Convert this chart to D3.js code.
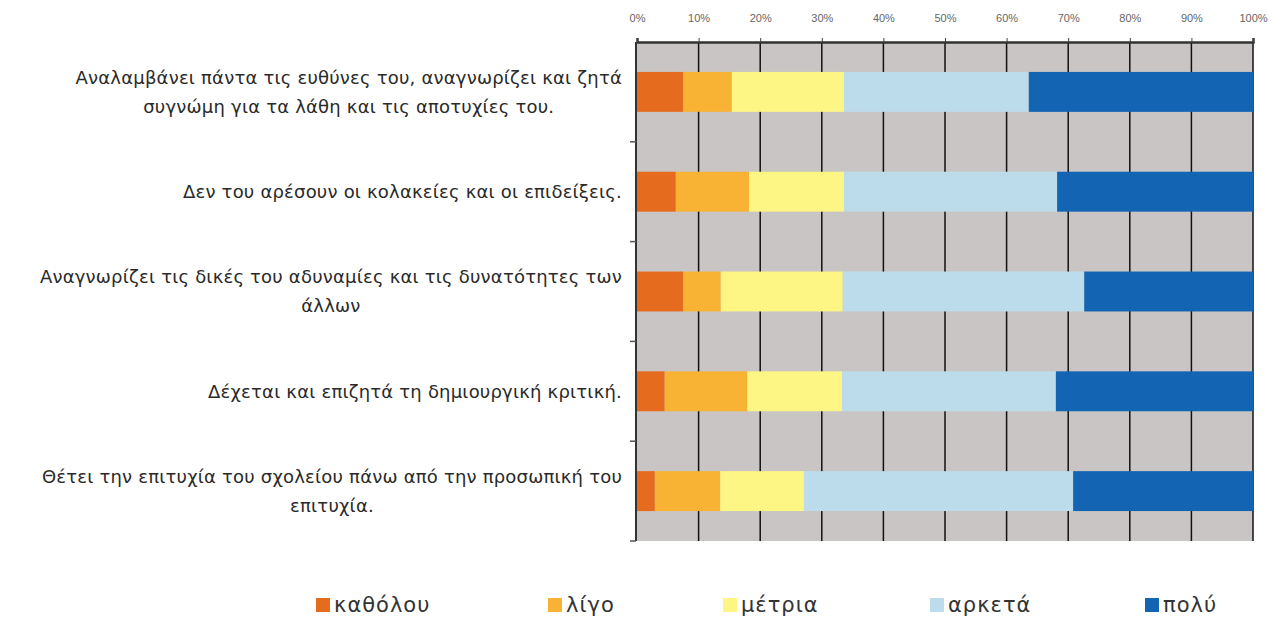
<!DOCTYPE html>
<html lang="el">
<head>
<meta charset="utf-8">
<title>Stacked bars</title>
<script src="https://d3js.org/d3.v7.min.js"></script>
<style>
  body { margin: 0; background: #fff; }
  text { font-family: "DejaVu Sans", "Liberation Sans", sans-serif; }
</style>
</head>
<body>
<script>
// categories (each as lines of text)
var categories = [
  ["Αναλαμβάνει πάντα τις ευθύνες του, αναγνωρίζει και ζητά", "συγνώμη για τα λάθη και τις αποτυχίες του."],
  ["Δεν του αρέσουν οι κολακείες και οι επιδείξεις."],
  ["Αναγνωρίζει τις δικές του αδυναμίες και τις δυνατότητες των", "άλλων"],
  ["Δέχεται και επιζητά τη δημιουργική κριτική."],
  ["Θέτει την επιτυχία του σχολείου πάνω από την προσωπική του", "επιτυχία."]
];
var seriesNames = ["καθόλου", "λίγο", "μέτρια", "αρκετά", "πολύ"];
var colors = ["#e56b1f", "#f8b334", "#fdf685", "#bcdcec", "#1464b4"];

// percentages per series, one per category
var katholou = [7.5, 6.3, 7.5, 4.5, 2.9];
var ligo     = [7.9, 11.9, 6.1, 13.4, 10.6];
var metria   = [18.2, 15.4, 19.8, 15.4, 13.6];
var arketa   = [30.0, 34.6, 39.2, 34.7, 43.7];
var poly     = [36.4, 31.8, 27.4, 32.0, 29.2];
var xTicks = [0, 10, 20, 30, 40, 50, 60, 70, 80, 90, 100];

var w = 1282, h = 617;
var margin = {top: 42, right: 29, bottom: 76, left: 637};

var svg = d3.select("body").append("svg")
  .attr("width", w).attr("height", h);

var x = d3.scaleLinear().domain([0, 100]).range([margin.left, w - margin.right]);
var y = d3.scaleBand().domain(d3.range(categories.length))
  .range([margin.top, h - margin.bottom])
  .paddingInner(0.6).paddingOuter(0.3);

// plot background
svg.append("rect")
  .attr("x", x(0)).attr("y", margin.top)
  .attr("width", x(100) - x(0)).attr("height", h - margin.bottom - margin.top)
  .attr("fill", "#c9c5c4");

// vertical grid lines
svg.append("g").selectAll("line")
  .data(xTicks.slice(1))
  .enter().append("line")
  .attr("x1", d => x(d)).attr("x2", d => x(d))
  .attr("y1", margin.top).attr("y2", h - margin.bottom)
  .attr("stroke", "#111").attr("stroke-width", 1.5);

// stacked data
var table = categories.map((c, i) => ({
  i: i,
  "καθόλου": katholou[i], "λίγο": ligo[i], "μέτρια": metria[i],
  "αρκετά": arketa[i], "πολύ": poly[i]
}));
var stacked = d3.stack().keys(seriesNames)(table);

svg.append("g").selectAll("g")
  .data(stacked)
  .enter().append("g")
  .attr("fill", (d, i) => colors[i])
  .selectAll("rect")
  .data(d => d)
  .enter().append("rect")
  .attr("x", d => x(d[0]))
  .attr("width", d => Math.max(0, x(Math.min(d[1], 100)) - x(d[0])))
  .attr("y", d => y(d.data.i))
  .attr("height", y.bandwidth());

// top axis
var xAxis = svg.append("g")
  .attr("transform", `translate(0,${margin.top})`)
  .call(d3.axisTop(x).tickValues(xTicks).tickFormat(d => d + "%").tickSize(4).tickPadding(16));
xAxis.select(".domain").attr("stroke", "#333").attr("stroke-width", 2.5);
xAxis.selectAll(".tick line").attr("stroke", "#444");
xAxis.selectAll("text").attr("fill", "#666")
  .style("font-family", "'Liberation Sans', sans-serif").style("font-size", "11px");

// left axis line with ticks at category boundaries
var left = svg.append("g");
left.append("line")
  .attr("x1", margin.left - 1).attr("x2", margin.left - 1)
  .attr("y1", margin.top).attr("y2", h - margin.bottom)
  .attr("stroke", "#333").attr("stroke-width", 2);
var step = y.step();
left.selectAll("line.tk")
  .data(d3.range(1, categories.length + 1))
  .enter().append("line").attr("class", "tk")
  .attr("x1", margin.left - 7).attr("x2", margin.left - 1)
  .attr("y1", d => margin.top + d * step).attr("y2", d => margin.top + d * step)
  .attr("stroke", "#555").attr("stroke-width", 1.5);

// category labels
var lineH = 29;
categories.forEach(function(lines, i) {
  var cy = y(i) + y.bandwidth() / 2;
  var t = svg.append("text")
    .attr("fill", "#2a2a2a")
    .style("font-size", "18px")
    .style("letter-spacing", "0.2px");
  lines.forEach(function(l, k) {
    t.append("tspan")
      .attr("y", cy + (k - (lines.length - 1) / 2) * lineH)
      .attr("dy", "0.35em")
      .text(l);
  });
  // right-align the block, center lines within it
  var widths = [];
  t.selectAll("tspan").each(function() { widths.push(this.getComputedTextLength()); });
  var maxW = d3.max(widths);
  var rightX = 622;
  t.selectAll("tspan")
    .attr("text-anchor", "middle")
    .attr("x", rightX - maxW / 2);
});

// legend
var legendX = [316, 548, 723, 930, 1145];
var legend = svg.append("g").attr("transform", "translate(0,604)");
seriesNames.forEach(function(s, i) {
  legend.append("rect")
    .attr("x", legendX[i]).attr("y", -6)
    .attr("width", 14).attr("height", 14)
    .attr("fill", colors[i]);
  legend.append("text")
    .attr("x", legendX[i] + 18).attr("y", 8)
    .attr("fill", "#333")
    .style("font-size", "21px")
    .style("letter-spacing", "1px")
    .text(s);
});
</script>
</body>
</html>
